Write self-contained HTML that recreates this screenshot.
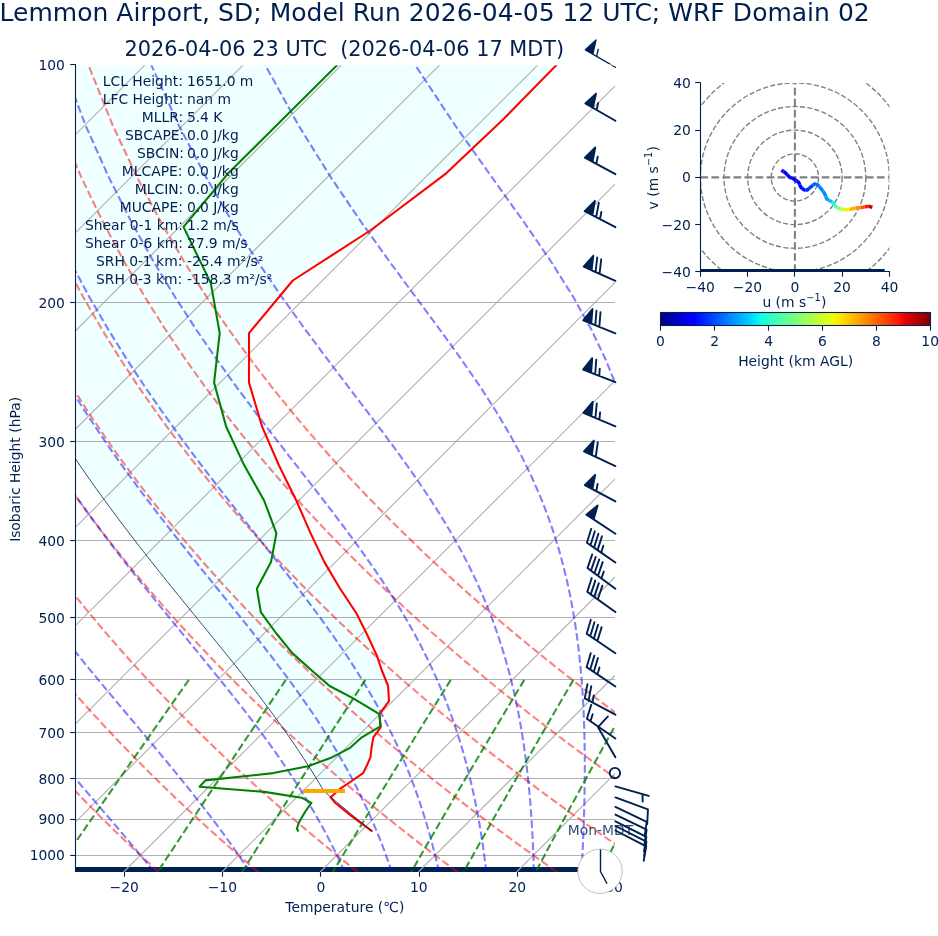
<!DOCTYPE html>
<html lang="en"><head><meta charset="utf-8"><title>Lemmon Airport, SD Skew-T</title>
<style>html,body{margin:0;padding:0;background:#fff}body{width:938px;height:936px;overflow:hidden}</style></head>
<body>
<svg width="938" height="936" viewBox="0 0 938 936" style="display:block;font-family:'DejaVu Sans','Liberation Sans',sans-serif">
<rect width="938" height="936" fill="#fff"/>
<defs><clipPath id="cax"><rect x="75" y="65" width="540" height="807"/></clipPath>
<linearGradient id="jet" x1="0" x2="1" y1="0" y2="0">
<stop offset="0.0000" stop-color="#000080"/>
<stop offset="0.0156" stop-color="#000092"/>
<stop offset="0.0312" stop-color="#0000a4"/>
<stop offset="0.0469" stop-color="#0000b6"/>
<stop offset="0.0625" stop-color="#0000c8"/>
<stop offset="0.0781" stop-color="#0000da"/>
<stop offset="0.0938" stop-color="#0000ed"/>
<stop offset="0.1094" stop-color="#0000ff"/>
<stop offset="0.1250" stop-color="#0000ff"/>
<stop offset="0.1406" stop-color="#0010ff"/>
<stop offset="0.1562" stop-color="#0020ff"/>
<stop offset="0.1719" stop-color="#0030ff"/>
<stop offset="0.1875" stop-color="#0040ff"/>
<stop offset="0.2031" stop-color="#0050ff"/>
<stop offset="0.2188" stop-color="#0060ff"/>
<stop offset="0.2344" stop-color="#0070ff"/>
<stop offset="0.2500" stop-color="#0080ff"/>
<stop offset="0.2656" stop-color="#0090ff"/>
<stop offset="0.2812" stop-color="#00a0ff"/>
<stop offset="0.2969" stop-color="#00b0ff"/>
<stop offset="0.3125" stop-color="#00c0ff"/>
<stop offset="0.3281" stop-color="#00d0ff"/>
<stop offset="0.3438" stop-color="#00e0fb"/>
<stop offset="0.3594" stop-color="#09f0ee"/>
<stop offset="0.3750" stop-color="#16ffe1"/>
<stop offset="0.3906" stop-color="#23ffd4"/>
<stop offset="0.4062" stop-color="#30ffc7"/>
<stop offset="0.4219" stop-color="#3cffba"/>
<stop offset="0.4375" stop-color="#49ffad"/>
<stop offset="0.4531" stop-color="#56ffa0"/>
<stop offset="0.4688" stop-color="#63ff94"/>
<stop offset="0.4844" stop-color="#70ff87"/>
<stop offset="0.5000" stop-color="#7dff7a"/>
<stop offset="0.5156" stop-color="#8aff6d"/>
<stop offset="0.5312" stop-color="#97ff60"/>
<stop offset="0.5469" stop-color="#a4ff53"/>
<stop offset="0.5625" stop-color="#b1ff46"/>
<stop offset="0.5781" stop-color="#beff39"/>
<stop offset="0.5938" stop-color="#caff2c"/>
<stop offset="0.6094" stop-color="#d7ff1f"/>
<stop offset="0.6250" stop-color="#e4ff13"/>
<stop offset="0.6406" stop-color="#f1fc06"/>
<stop offset="0.6562" stop-color="#feed00"/>
<stop offset="0.6719" stop-color="#ffde00"/>
<stop offset="0.6875" stop-color="#ffd000"/>
<stop offset="0.7031" stop-color="#ffc100"/>
<stop offset="0.7188" stop-color="#ffb200"/>
<stop offset="0.7344" stop-color="#ffa300"/>
<stop offset="0.7500" stop-color="#ff9400"/>
<stop offset="0.7656" stop-color="#ff8600"/>
<stop offset="0.7812" stop-color="#ff7700"/>
<stop offset="0.7969" stop-color="#ff6800"/>
<stop offset="0.8125" stop-color="#ff5900"/>
<stop offset="0.8281" stop-color="#ff4a00"/>
<stop offset="0.8438" stop-color="#ff3b00"/>
<stop offset="0.8594" stop-color="#ff2d00"/>
<stop offset="0.8750" stop-color="#ff1e00"/>
<stop offset="0.8906" stop-color="#fa0f00"/>
<stop offset="0.9062" stop-color="#e80000"/>
<stop offset="0.9219" stop-color="#d60000"/>
<stop offset="0.9375" stop-color="#c40000"/>
<stop offset="0.9531" stop-color="#b20000"/>
<stop offset="0.9688" stop-color="#9f0000"/>
<stop offset="0.9844" stop-color="#8d0000"/>
<stop offset="1.0000" stop-color="#800000"/>
</linearGradient></defs>
<g clip-path="url(#cax)">
<path d="M584.00 37.00 L556.90 64.60 L503.10 119.50 L446.20 173.30 L370.30 230.50 L292.80 280.50 L249.00 333.10 L249.00 382.60 L262.10 426.70 L279.00 465.50 L296.90 501.80 L310.30 532.60 L324.40 562.10 L340.00 588.50 L356.40 613.30 L366.70 633.80 L376.90 655.60 L381.70 670.00 L388.10 686.00 L389.00 701.20 L379.40 714.20 L380.80 727.10 L373.30 737.30 L371.50 748.00 L370.50 757.20 L366.90 765.50 L363.10 773.20 L351.00 781.50 L339.50 789.20 L330.60 797.40 L328.25 794.87 L323.72 791.00 L323.24 790.17 L321.72 787.56 L320.16 784.92 L318.58 782.26 L316.97 779.59 L315.33 776.89 L313.66 774.17 L311.96 771.43 L310.23 768.67 L308.47 765.88 L306.67 763.07 L304.85 760.24 L302.99 757.39 L301.10 754.51 L299.17 751.61 L297.21 748.68 L295.22 745.73 L293.19 742.75 L291.12 739.74 L289.02 736.71 L286.88 733.65 L284.71 730.57 L282.49 727.45 L280.24 724.31 L277.95 721.14 L275.62 717.94 L273.25 714.71 L270.84 711.45 L268.39 708.15 L265.89 704.83 L263.36 701.47 L260.78 698.08 L258.17 694.66 L255.51 691.20 L252.81 687.71 L250.06 684.18 L247.27 680.61 L244.44 677.00 L241.57 673.36 L238.65 669.68 L235.68 665.96 L232.68 662.20 L229.63 658.39 L226.53 654.55 L223.39 650.66 L220.21 646.72 L216.98 642.74 L213.71 638.72 L210.40 634.64 L207.04 630.52 L203.64 626.34 L200.19 622.12 L196.70 617.84 L193.17 613.51 L189.59 609.12 L185.98 604.68 L182.32 600.18 L178.61 595.61 L174.87 590.99 L171.08 586.30 L167.26 581.55 L163.39 576.73 L159.48 571.85 L155.54 566.89 L151.55 561.86 L147.52 556.75 L143.45 551.57 L139.35 546.31 L135.21 540.97 L131.03 535.54 L126.81 530.02 L122.56 524.42 L118.26 518.72 L113.94 512.93 L109.57 507.03 L105.17 501.04 L100.74 494.93 L96.27 488.72 L91.76 482.39 L87.22 475.94 L82.65 469.37 L78.04 462.67 L73.40 455.84 L68.73 448.87 L64.02 441.75 L59.28 434.49 L54.51 427.06 L49.70 419.48 L44.87 411.72 L40.00 403.78 L35.10 395.65 L30.17 387.33 L25.21 378.80 L20.22 370.05 L15.21 361.07 L10.16 351.85 L5.09 342.38 L-0.01 332.64 L-5.13 322.62 L-10.28 312.29 L-15.45 301.64 L-20.63 290.65 L-25.84 279.30 L-31.06 267.56 L-36.29 255.40 L-41.53 242.80 L-46.77 229.72 L-52.01 216.12 L-57.24 201.95 L-62.46 187.18 L-67.64 171.75 L-72.79 155.58 L-77.89 138.62 L-82.92 120.77 L-87.86 101.95 L-92.68 82.04 L-97.36 60.89 L-101.85 38.36 L-106.10 14.25 L-110.04 -11.69Z" fill="#f0ffff"/>
<rect x="74.8" y="867" width="525.7" height="5" fill="#002050"/>
</g>
<g fill-opacity="0.82"><text x="567.84 579.84 588.34 597.09 601.97 613.97 624.72" y="835.00" font-size="13.89px" fill="#002050" xml:space="preserve">Mon-MDT</text></g>
<g clip-path="url(#cax)">
<line x1="75.3" x2="615.5" y1="302.50" y2="302.50" stroke="#b0b0b0" stroke-width="1.1"/>
<line x1="75.3" x2="615.5" y1="441.50" y2="441.50" stroke="#b0b0b0" stroke-width="1.1"/>
<line x1="75.3" x2="615.5" y1="540.50" y2="540.50" stroke="#b0b0b0" stroke-width="1.1"/>
<line x1="75.3" x2="615.5" y1="617.50" y2="617.50" stroke="#b0b0b0" stroke-width="1.1"/>
<line x1="75.3" x2="615.5" y1="679.50" y2="679.50" stroke="#b0b0b0" stroke-width="1.1"/>
<line x1="75.3" x2="615.5" y1="732.50" y2="732.50" stroke="#b0b0b0" stroke-width="1.1"/>
<line x1="75.3" x2="615.5" y1="778.50" y2="778.50" stroke="#b0b0b0" stroke-width="1.1"/>
<line x1="75.3" x2="615.5" y1="819.50" y2="819.50" stroke="#b0b0b0" stroke-width="1.1"/>
<line x1="75.3" x2="615.5" y1="855.50" y2="855.50" stroke="#b0b0b0" stroke-width="1.1"/>
<line x1="-858.47" y1="872.0" x2="-51.37" y2="64.9" stroke="#b0b0b0" stroke-width="1.1"/>
<line x1="-760.25" y1="872.0" x2="46.85" y2="64.9" stroke="#b0b0b0" stroke-width="1.1"/>
<line x1="-662.04" y1="872.0" x2="145.06" y2="64.9" stroke="#b0b0b0" stroke-width="1.1"/>
<line x1="-563.82" y1="872.0" x2="243.28" y2="64.9" stroke="#b0b0b0" stroke-width="1.1"/>
<line x1="-465.60" y1="872.0" x2="341.50" y2="64.9" stroke="#b0b0b0" stroke-width="1.1"/>
<line x1="-367.38" y1="872.0" x2="439.72" y2="64.9" stroke="#b0b0b0" stroke-width="1.1"/>
<line x1="-269.16" y1="872.0" x2="537.94" y2="64.9" stroke="#b0b0b0" stroke-width="1.1"/>
<line x1="-170.95" y1="872.0" x2="636.15" y2="64.9" stroke="#b0b0b0" stroke-width="1.1"/>
<line x1="-72.73" y1="872.0" x2="734.37" y2="64.9" stroke="#b0b0b0" stroke-width="1.1"/>
<line x1="25.49" y1="872.0" x2="832.59" y2="64.9" stroke="#b0b0b0" stroke-width="1.1"/>
<line x1="123.71" y1="872.0" x2="930.81" y2="64.9" stroke="#b0b0b0" stroke-width="1.1"/>
<line x1="221.93" y1="872.0" x2="1029.03" y2="64.9" stroke="#b0b0b0" stroke-width="1.1"/>
<line x1="320.15" y1="872.0" x2="1127.25" y2="64.9" stroke="#b0b0b0" stroke-width="1.1"/>
<line x1="418.36" y1="872.0" x2="1225.46" y2="64.9" stroke="#b0b0b0" stroke-width="1.1"/>
<line x1="516.58" y1="872.0" x2="1323.68" y2="64.9" stroke="#b0b0b0" stroke-width="1.1"/>
<line x1="614.80" y1="872.0" x2="1421.90" y2="64.9" stroke="#b0b0b0" stroke-width="1.1"/>
<line x1="713.02" y1="872.0" x2="1520.12" y2="64.9" stroke="#b0b0b0" stroke-width="1.1"/>
<g fill="none" stroke="#ff0000" stroke-opacity="0.5" stroke-width="2.08" stroke-dasharray="7.70 3.33"><path d="M59.02 872.00 L52.55 865.60 L46.03 859.08 L39.47 852.44 L32.84 845.66 L26.16 838.75 L19.42 831.70 L12.63 824.49 L5.77 817.14 L-1.14 809.62 L-8.12 801.93 L-15.16 794.07 L-22.26 786.02 L-29.43 777.78 L-36.67 769.34 L-43.98 760.68 L-51.35 751.81 L-58.80 742.69 L-66.32 733.33 L-73.91 723.70 L-81.58 713.79 L-89.33 703.60 L-97.16 693.08 L-105.06 682.24 L-113.05 671.04 L-121.12 659.47 L-129.27 647.49 L-137.50 635.08 L-145.83 622.20 L-154.23 608.82 L-162.72 594.90 L-171.30 580.39 L-179.96 565.24 L-188.69 549.39 L-197.51 532.77 L-206.40 515.30 L-215.35 496.90 L-224.36 477.46 L-233.41 456.85 L-242.49 434.92 L-251.56 411.49 L-260.61 386.35 L-269.57 359.22 L-278.39 329.76 L-286.98 297.53 L-295.21 261.95 L-302.88 222.26 L-309.71 177.38 L-315.22 125.73 L-318.63 64.90"/><path d="M158.61 872.00 L151.62 865.60 L144.57 859.08 L137.45 852.44 L130.28 845.66 L123.04 838.75 L115.73 831.70 L108.36 824.49 L100.92 817.14 L93.42 809.62 L85.84 801.93 L78.18 794.07 L70.45 786.02 L62.65 777.78 L54.77 769.34 L46.81 760.68 L38.76 751.81 L30.63 742.69 L22.42 733.33 L14.12 723.70 L5.72 713.79 L-2.76 703.60 L-11.34 693.08 L-20.02 682.24 L-28.79 671.04 L-37.67 659.47 L-46.65 647.49 L-55.73 635.08 L-64.93 622.20 L-74.23 608.82 L-83.64 594.90 L-93.17 580.39 L-102.80 565.24 L-112.55 549.39 L-122.41 532.77 L-132.39 515.30 L-142.46 496.90 L-152.64 477.46 L-162.91 456.85 L-173.26 434.92 L-183.68 411.49 L-194.13 386.35 L-204.58 359.22 L-214.97 329.76 L-225.24 297.53 L-235.27 261.95 L-244.89 222.26 L-253.84 177.38 L-261.71 125.73 L-267.76 64.90"/><path d="M258.21 872.00 L250.69 865.60 L243.10 859.08 L235.44 852.44 L227.72 845.66 L219.92 838.75 L212.04 831.70 L204.10 824.49 L196.07 817.14 L187.97 809.62 L179.79 801.93 L171.52 794.07 L163.17 786.02 L154.74 777.78 L146.21 769.34 L137.59 760.68 L128.88 751.81 L120.07 742.69 L111.16 733.33 L102.15 723.70 L93.03 713.79 L83.81 703.60 L74.48 693.08 L65.03 682.24 L55.46 671.04 L45.78 659.47 L35.97 647.49 L26.04 635.08 L15.97 622.20 L5.77 608.82 L-4.56 594.90 L-15.03 580.39 L-25.65 565.24 L-36.41 549.39 L-47.32 532.77 L-58.37 515.30 L-69.58 496.90 L-80.93 477.46 L-92.42 456.85 L-104.04 434.92 L-115.79 411.49 L-127.65 386.35 L-139.58 359.22 L-151.55 329.76 L-163.50 297.53 L-175.33 261.95 L-186.90 222.26 L-197.98 177.38 L-208.19 125.73 L-216.89 64.90"/><path d="M357.81 872.00 L349.76 865.60 L341.63 859.08 L333.43 852.44 L325.15 845.66 L316.79 838.75 L308.36 831.70 L299.83 824.49 L291.23 817.14 L282.53 809.62 L273.74 801.93 L264.87 794.07 L255.89 786.02 L246.82 777.78 L237.65 769.34 L228.37 760.68 L218.99 751.81 L209.50 742.69 L199.90 733.33 L190.18 723.70 L180.34 713.79 L170.38 703.60 L160.29 693.08 L150.07 682.24 L139.72 671.04 L129.23 659.47 L118.59 647.49 L107.81 635.08 L96.87 622.20 L85.78 608.82 L74.52 594.90 L63.10 580.39 L51.50 565.24 L39.73 549.39 L27.78 532.77 L15.64 515.30 L3.31 496.90 L-9.21 477.46 L-21.92 456.85 L-34.82 434.92 L-47.91 411.49 L-61.17 386.35 L-74.59 359.22 L-88.13 329.76 L-101.76 297.53 L-115.39 261.95 L-128.91 222.26 L-142.11 177.38 L-154.68 125.73 L-166.02 64.90"/><path d="M457.40 872.00 L448.82 865.60 L440.16 859.08 L431.42 852.44 L422.59 845.66 L413.67 838.75 L404.67 831.70 L395.57 824.49 L386.38 817.14 L377.09 809.62 L367.70 801.93 L358.21 794.07 L348.61 786.02 L338.90 777.78 L329.09 769.34 L319.16 760.68 L309.11 751.81 L298.93 742.69 L288.64 733.33 L278.21 723.70 L267.65 713.79 L256.95 703.60 L246.11 693.08 L235.12 682.24 L223.98 671.04 L212.68 659.47 L201.21 647.49 L189.58 635.08 L177.77 622.20 L165.78 608.82 L153.60 594.90 L141.23 580.39 L128.65 565.24 L115.87 549.39 L102.87 532.77 L89.65 515.30 L76.20 496.90 L62.51 477.46 L48.58 456.85 L34.40 434.92 L19.98 411.49 L5.31 386.35 L-9.59 359.22 L-24.71 329.76 L-40.02 297.53 L-55.45 261.95 L-70.92 222.26 L-86.25 177.38 L-101.17 125.73 L-115.15 64.90"/><path d="M557.00 872.00 L547.89 865.60 L538.69 859.08 L529.41 852.44 L520.03 845.66 L510.55 838.75 L500.98 831.70 L491.30 824.49 L481.53 817.14 L471.64 809.62 L461.65 801.93 L451.55 794.07 L441.33 786.02 L430.99 777.78 L420.53 769.34 L409.94 760.68 L399.22 751.81 L388.37 742.69 L377.38 733.33 L366.24 723.70 L354.96 713.79 L343.52 703.60 L331.92 693.08 L320.16 682.24 L308.23 671.04 L296.12 659.47 L283.83 647.49 L271.35 635.08 L258.67 622.20 L245.78 608.82 L232.68 594.90 L219.36 580.39 L205.81 565.24 L192.01 549.39 L177.97 532.77 L163.66 515.30 L149.08 496.90 L134.22 477.46 L119.07 456.85 L103.62 434.92 L87.86 411.49 L71.79 386.35 L55.40 359.22 L38.71 329.76 L21.72 297.53 L4.49 261.95 L-12.92 222.26 L-30.38 177.38 L-47.65 125.73 L-64.28 64.90"/><path d="M656.60 872.00 L646.96 865.60 L637.23 859.08 L627.40 852.44 L617.46 845.66 L607.43 838.75 L597.29 831.70 L587.04 824.49 L576.68 817.14 L566.20 809.62 L555.61 801.93 L544.89 794.07 L534.05 786.02 L523.07 777.78 L511.97 769.34 L500.72 760.68 L489.34 751.81 L477.80 742.69 L466.12 733.33 L454.27 723.70 L442.27 713.79 L430.09 703.60 L417.74 693.08 L405.21 682.24 L392.49 671.04 L379.57 659.47 L366.45 647.49 L353.12 635.08 L339.57 622.20 L325.79 608.82 L311.77 594.90 L297.49 580.39 L282.96 565.24 L268.15 549.39 L253.06 532.77 L237.67 515.30 L221.97 496.90 L205.94 477.46 L189.57 456.85 L172.84 434.92 L155.74 411.49 L138.27 386.35 L120.39 359.22 L102.12 329.76 L83.46 297.53 L64.43 261.95 L45.07 222.26 L25.48 177.38 L5.86 125.73 L-13.40 64.90"/><path d="M756.19 872.00 L746.03 865.60 L735.76 859.08 L725.38 852.44 L714.90 845.66 L704.31 838.75 L693.60 831.70 L682.78 824.49 L671.83 817.14 L660.76 809.62 L649.56 801.93 L638.23 794.07 L626.76 786.02 L615.16 777.78 L603.41 769.34 L591.51 760.68 L579.45 751.81 L567.24 742.69 L554.85 733.33 L542.30 723.70 L529.57 713.79 L516.66 703.60 L503.56 693.08 L490.25 682.24 L476.74 671.04 L463.02 659.47 L449.07 647.49 L434.89 635.08 L420.47 622.20 L405.79 608.82 L390.85 594.90 L375.63 580.39 L360.11 565.24 L344.30 549.39 L328.16 532.77 L311.68 515.30 L294.85 496.90 L277.66 477.46 L260.06 456.85 L242.06 434.92 L223.63 411.49 L204.74 386.35 L185.39 359.22 L165.54 329.76 L145.20 297.53 L124.37 261.95 L103.06 222.26 L81.35 177.38 L59.38 125.73 L37.47 64.90"/><path d="M855.79 872.00 L845.10 865.60 L834.29 859.08 L823.37 852.44 L812.34 845.66 L801.19 838.75 L789.91 831.70 L778.51 824.49 L766.98 817.14 L755.32 809.62 L743.51 801.93 L731.57 794.07 L719.48 786.02 L707.24 777.78 L694.85 769.34 L682.29 760.68 L669.56 751.81 L656.67 742.69 L643.59 733.33 L630.33 723.70 L616.88 713.79 L603.23 703.60 L589.37 693.08 L575.30 682.24 L561.00 671.04 L546.47 659.47 L531.69 647.49 L516.66 635.08 L501.37 622.20 L485.79 608.82 L469.93 594.90 L453.76 580.39 L437.27 565.24 L420.44 549.39 L403.25 532.77 L385.69 515.30 L367.74 496.90 L349.37 477.46 L330.56 456.85 L311.28 434.92 L291.51 411.49 L271.22 386.35 L250.38 359.22 L228.96 329.76 L206.94 297.53 L184.31 261.95 L161.05 222.26 L137.21 177.38 L112.89 125.73 L88.34 64.90"/></g>
<g fill="none" stroke="#0000ff" stroke-opacity="0.5" stroke-width="2.08" stroke-dasharray="7.70 3.33"><path d="M56.88 872.00 L51.29 865.60 L45.59 859.08 L39.78 852.44 L33.86 845.66 L27.82 838.75 L21.68 831.70 L15.43 824.49 L9.07 817.14 L2.61 809.62 L-3.96 801.93 L-10.64 794.07 L-17.42 786.02 L-24.31 777.78 L-31.30 769.34 L-38.39 760.68 L-45.58 751.81 L-52.87 742.69 L-60.26 733.33 L-67.75 723.70 L-75.34 713.79 L-83.03 703.60 L-90.81 693.08 L-98.69 682.24 L-106.67 671.04 L-114.75 659.47 L-122.91 647.49 L-131.18 635.08 L-139.54 622.20 L-147.99 608.82 L-156.53 594.90 L-165.17 580.39 L-173.89 565.24 L-182.70 549.39 L-191.59 532.77 L-200.56 515.30 L-209.60 496.90 L-218.70 477.46 L-227.85 456.85 L-237.02 434.92 L-246.20 411.49 L-255.36 386.35 L-264.44 359.22 L-273.38 329.76 L-282.11 297.53 L-290.48 261.95 L-298.30 222.26 L-305.30 177.38 L-311.00 125.73 L-314.62 64.90"/><path d="M154.10 872.00 L148.93 865.60 L143.61 859.08 L138.13 852.44 L132.50 845.66 L126.71 838.75 L120.77 831.70 L114.67 824.49 L108.40 817.14 L101.98 809.62 L95.40 801.93 L88.65 794.07 L81.75 786.02 L74.69 777.78 L67.47 769.34 L60.10 760.68 L52.57 751.81 L44.88 742.69 L37.05 733.33 L29.06 723.70 L20.93 713.79 L12.65 703.60 L4.23 693.08 L-4.34 682.24 L-13.05 671.04 L-21.90 659.47 L-30.88 647.49 L-40.01 635.08 L-49.26 622.20 L-58.66 608.82 L-68.18 594.90 L-77.84 580.39 L-87.63 565.24 L-97.55 549.39 L-107.59 532.77 L-117.76 515.30 L-128.05 496.90 L-138.45 477.46 L-148.96 456.85 L-159.56 434.92 L-170.24 411.49 L-180.96 386.35 L-191.70 359.22 L-202.41 329.76 L-213.01 297.53 L-223.40 261.95 L-233.41 222.26 L-242.78 177.38 L-251.11 125.73 L-257.69 64.90"/><path d="M249.94 872.00 L245.70 865.60 L241.30 859.08 L236.72 852.44 L231.96 845.66 L227.02 838.75 L221.87 831.70 L216.53 824.49 L210.97 817.14 L205.21 809.62 L199.23 801.93 L193.02 794.07 L186.59 786.02 L179.93 777.78 L173.03 769.34 L165.90 760.68 L158.53 751.81 L150.93 742.69 L143.08 733.33 L135.00 723.70 L126.68 713.79 L118.13 703.60 L109.34 693.08 L100.32 682.24 L91.08 671.04 L81.62 659.47 L71.94 647.49 L62.04 635.08 L51.94 622.20 L41.63 608.82 L31.11 594.90 L20.40 580.39 L9.48 565.24 L-1.62 549.39 L-12.92 532.77 L-24.41 515.30 L-36.08 496.90 L-47.93 477.46 L-59.96 456.85 L-72.16 434.92 L-84.51 411.49 L-97.01 386.35 L-109.62 359.22 L-122.32 329.76 L-135.04 297.53 L-147.70 261.95 L-160.16 222.26 L-172.22 177.38 L-183.52 125.73 L-193.44 64.90"/><path d="M344.65 872.00 L341.76 865.60 L338.72 859.08 L335.53 852.44 L332.18 845.66 L328.65 838.75 L324.94 831.70 L321.03 824.49 L316.92 817.14 L312.59 809.62 L308.04 801.93 L303.24 794.07 L298.18 786.02 L292.86 777.78 L287.25 769.34 L281.35 760.68 L275.14 751.81 L268.61 742.69 L261.75 733.33 L254.54 723.70 L246.98 713.79 L239.06 703.60 L230.77 693.08 L222.10 682.24 L213.05 671.04 L203.63 659.47 L193.83 647.49 L183.65 635.08 L173.11 622.20 L162.19 608.82 L150.92 594.90 L139.31 580.39 L127.35 565.24 L115.06 549.39 L102.45 532.77 L89.52 515.30 L76.30 496.90 L62.77 477.46 L48.95 456.85 L34.85 434.92 L20.47 411.49 L5.83 386.35 L-9.07 359.22 L-24.19 329.76 L-39.50 297.53 L-54.94 261.95 L-70.42 222.26 L-85.77 177.38 L-100.71 125.73 L-114.71 64.90"/><path d="M391.82 872.00 L389.66 865.60 L387.38 859.08 L384.97 852.44 L382.43 845.66 L379.74 838.75 L376.89 831.70 L373.88 824.49 L370.69 817.14 L367.31 809.62 L363.72 801.93 L359.92 794.07 L355.87 786.02 L351.58 777.78 L347.02 769.34 L342.18 760.68 L337.03 751.81 L331.55 742.69 L325.73 733.33 L319.55 723.70 L312.98 713.79 L306.00 703.60 L298.60 693.08 L290.76 682.24 L282.46 671.04 L273.68 659.47 L264.43 647.49 L254.68 635.08 L244.43 622.20 L233.69 608.82 L222.45 594.90 L210.72 580.39 L198.51 565.24 L185.83 549.39 L172.69 532.77 L159.12 515.30 L145.12 496.90 L130.71 477.46 L115.90 456.85 L100.71 434.92 L85.14 411.49 L69.22 386.35 L52.95 359.22 L36.34 329.76 L19.44 297.53 L2.28 261.95 L-15.06 222.26 L-32.44 177.38 L-49.62 125.73 L-66.14 64.90"/><path d="M439.02 872.00 L437.57 865.60 L436.04 859.08 L434.41 852.44 L432.68 845.66 L430.84 838.75 L428.88 831.70 L426.79 824.49 L424.55 817.14 L422.17 809.62 L419.63 801.93 L416.90 794.07 L413.99 786.02 L410.87 777.78 L407.53 769.34 L403.94 760.68 L400.08 751.81 L395.94 742.69 L391.49 733.33 L386.70 723.70 L381.55 713.79 L376.00 703.60 L370.03 693.08 L363.60 682.24 L356.68 671.04 L349.23 659.47 L341.23 647.49 L332.65 635.08 L323.44 622.20 L313.60 608.82 L303.10 594.90 L291.92 580.39 L280.06 565.24 L267.52 549.39 L254.31 532.77 L240.44 515.30 L225.93 496.90 L210.79 477.46 L195.07 456.85 L178.78 434.92 L161.95 411.49 L144.60 386.35 L126.75 359.22 L108.43 329.76 L89.66 297.53 L70.47 261.95 L50.93 222.26 L31.14 177.38 L11.28 125.73 L-8.25 64.90"/><path d="M486.33 872.00 L485.56 865.60 L484.73 859.08 L483.83 852.44 L482.87 845.66 L481.83 838.75 L480.71 831.70 L479.50 824.49 L478.19 817.14 L476.78 809.62 L475.26 801.93 L473.61 794.07 L471.82 786.02 L469.88 777.78 L467.78 769.34 L465.51 760.68 L463.03 751.81 L460.34 742.69 L457.41 733.33 L454.21 723.70 L450.72 713.79 L446.92 703.60 L442.76 693.08 L438.20 682.24 L433.21 671.04 L427.75 659.47 L421.76 647.49 L415.19 635.08 L407.98 622.20 L400.08 608.82 L391.43 594.90 L381.97 580.39 L371.64 565.24 L360.41 549.39 L348.23 532.77 L335.07 515.30 L320.93 496.90 L305.80 477.46 L289.72 456.85 L272.71 434.92 L254.82 411.49 L236.09 386.35 L216.58 359.22 L196.33 329.76 L175.38 297.53 L153.78 261.95 L131.57 222.26 L108.84 177.38 L85.72 125.73 L62.51 64.90"/><path d="M533.84 872.00 L533.67 865.60 L533.46 859.08 L533.22 852.44 L532.95 845.66 L532.63 838.75 L532.26 831.70 L531.85 824.49 L531.38 817.14 L530.84 809.62 L530.24 801.93 L529.57 794.07 L528.81 786.02 L527.97 777.78 L527.02 769.34 L525.96 760.68 L524.78 751.81 L523.47 742.69 L522.00 733.33 L520.36 723.70 L518.53 713.79 L516.48 703.60 L514.20 693.08 L511.64 682.24 L508.78 671.04 L505.57 659.47 L501.98 647.49 L497.93 635.08 L493.39 622.20 L488.27 608.82 L482.50 594.90 L476.00 580.39 L468.66 565.24 L460.38 549.39 L451.05 532.77 L440.55 515.30 L428.77 496.90 L415.60 477.46 L400.97 456.85 L384.82 434.92 L367.15 411.49 L347.98 386.35 L327.37 359.22 L305.42 329.76 L282.23 297.53 L257.89 261.95 L232.51 222.26 L206.18 177.38 L179.00 125.73 L151.20 64.90"/><path d="M581.56 872.00 L581.91 865.60 L582.25 859.08 L582.57 852.44 L582.89 845.66 L583.19 838.75 L583.47 831.70 L583.74 824.49 L583.98 817.14 L584.20 809.62 L584.39 801.93 L584.55 794.07 L584.67 786.02 L584.76 777.78 L584.80 769.34 L584.79 760.68 L584.72 751.81 L584.58 742.69 L584.38 733.33 L584.08 723.70 L583.70 713.79 L583.20 703.60 L582.57 693.08 L581.80 682.24 L580.87 671.04 L579.75 659.47 L578.40 647.49 L576.80 635.08 L574.90 622.20 L572.66 608.82 L570.01 594.90 L566.88 580.39 L563.19 565.24 L558.84 549.39 L553.70 532.77 L547.62 515.30 L540.44 496.90 L531.94 477.46 L521.90 456.85 L510.06 434.92 L496.15 411.49 L479.94 386.35 L461.24 359.22 L439.94 329.76 L416.08 297.53 L389.80 261.95 L361.32 222.26 L330.89 177.38 L298.76 125.73 L265.15 64.90"/><path d="M629.52 872.00 L630.30 865.60 L631.09 859.08 L631.88 852.44 L632.69 845.66 L633.50 838.75 L634.32 831.70 L635.14 824.49 L635.97 817.14 L636.80 809.62 L637.64 801.93 L638.48 794.07 L639.32 786.02 L640.16 777.78 L640.99 769.34 L641.83 760.68 L642.65 751.81 L643.47 742.69 L644.27 733.33 L645.05 723.70 L645.82 713.79 L646.55 703.60 L647.25 693.08 L647.91 682.24 L648.51 671.04 L649.05 659.47 L649.51 647.49 L649.88 635.08 L650.14 622.20 L650.26 608.82 L650.20 594.90 L649.95 580.39 L649.44 565.24 L648.63 549.39 L647.44 532.77 L645.78 515.30 L643.53 496.90 L640.55 477.46 L636.64 456.85 L631.55 434.92 L624.96 411.49 L616.45 386.35 L605.49 359.22 L591.45 329.76 L573.60 297.53 L551.29 261.95 L524.09 222.26 L491.98 177.38 L455.41 125.73 L415.10 64.90"/></g>
<g fill="none" stroke="#008000" stroke-opacity="0.8" stroke-width="2.08" stroke-dasharray="7.70 3.33"><path d="M188.82 679.91 L185.14 685.13 L181.53 690.26 L177.96 695.32 L174.45 700.31 L171.00 705.23 L167.59 710.07 L164.24 714.85 L160.93 719.56 L157.67 724.21 L154.45 728.80 L151.28 733.33 L148.15 737.79 L145.06 742.20 L142.02 746.56 L139.01 750.86 L136.04 755.10 L133.11 759.30 L130.22 763.44 L127.36 767.54 L124.54 771.58 L121.75 775.58 L119.00 779.53 L116.28 783.44 L113.59 787.31 L110.93 791.13 L108.30 794.91 L105.70 798.64 L103.13 802.34 L100.59 806.00 L98.08 809.62 L95.60 813.20 L93.14 816.75 L90.71 820.25 L88.30 823.73 L85.92 827.17 L83.56 830.57 L81.23 833.94 L78.92 837.28 L76.64 840.58 L74.38 843.86 L72.14 847.10 L69.92 850.31 L67.72 853.50 L65.55 856.65 L63.39 859.78 L61.26 862.87 L59.14 865.94 L57.05 868.98 L54.97 872.00"/><path d="M285.81 679.91 L282.28 685.13 L278.81 690.26 L275.39 695.32 L272.03 700.31 L268.71 705.23 L265.44 710.07 L262.22 714.85 L259.05 719.56 L255.92 724.21 L252.84 728.80 L249.80 733.33 L246.80 737.79 L243.84 742.20 L240.92 746.56 L238.04 750.86 L235.20 755.10 L232.39 759.30 L229.62 763.44 L226.88 767.54 L224.18 771.58 L221.51 775.58 L218.87 779.53 L216.27 783.44 L213.69 787.31 L211.15 791.13 L208.63 794.91 L206.15 798.64 L203.69 802.34 L201.26 806.00 L198.85 809.62 L196.48 813.20 L194.12 816.75 L191.80 820.25 L189.50 823.73 L187.22 827.17 L184.97 830.57 L182.74 833.94 L180.53 837.28 L178.34 840.58 L176.18 843.86 L174.04 847.10 L171.92 850.31 L169.82 853.50 L167.74 856.65 L165.68 859.78 L163.64 862.87 L161.62 865.94 L159.62 868.98 L157.64 872.00"/><path d="M365.34 679.91 L361.94 685.13 L358.60 690.26 L355.30 695.32 L352.06 700.31 L348.86 705.23 L345.71 710.07 L342.61 714.85 L339.55 719.56 L336.54 724.21 L333.57 728.80 L330.64 733.33 L327.75 737.79 L324.90 742.20 L322.09 746.56 L319.32 750.86 L316.58 755.10 L313.88 759.30 L311.21 763.44 L308.58 767.54 L305.98 771.58 L303.41 775.58 L300.87 779.53 L298.36 783.44 L295.89 787.31 L293.44 791.13 L291.02 794.91 L288.63 798.64 L286.27 802.34 L283.93 806.00 L281.62 809.62 L279.33 813.20 L277.07 816.75 L274.84 820.25 L272.63 823.73 L270.44 827.17 L268.27 830.57 L266.13 833.94 L264.01 837.28 L261.91 840.58 L259.83 843.86 L257.78 847.10 L255.74 850.31 L253.72 853.50 L251.73 856.65 L249.75 859.78 L247.79 862.87 L245.85 865.94 L243.93 868.98 L242.03 872.00"/><path d="M450.74 679.91 L447.48 685.13 L444.27 690.26 L441.11 695.32 L438.00 700.31 L434.94 705.23 L431.92 710.07 L428.95 714.85 L426.03 719.56 L423.14 724.21 L420.30 728.80 L417.49 733.33 L414.73 737.79 L412.00 742.20 L409.31 746.56 L406.66 750.86 L404.04 755.10 L401.45 759.30 L398.90 763.44 L396.38 767.54 L393.90 771.58 L391.44 775.58 L389.01 779.53 L386.62 783.44 L384.25 787.31 L381.91 791.13 L379.60 794.91 L377.31 798.64 L375.06 802.34 L372.82 806.00 L370.62 809.62 L368.43 813.20 L366.28 816.75 L364.14 820.25 L362.03 823.73 L359.94 827.17 L357.87 830.57 L355.83 833.94 L353.81 837.28 L351.80 840.58 L349.82 843.86 L347.86 847.10 L345.92 850.31 L343.99 853.50 L342.09 856.65 L340.20 859.78 L338.34 862.87 L336.49 865.94 L334.66 868.98 L332.84 872.00"/><path d="M524.27 679.91 L521.14 685.13 L518.05 690.26 L515.02 695.32 L512.03 700.31 L509.09 705.23 L506.19 710.07 L503.33 714.85 L500.52 719.56 L497.75 724.21 L495.02 728.80 L492.33 733.33 L489.67 737.79 L487.05 742.20 L484.47 746.56 L481.92 750.86 L479.41 755.10 L476.93 759.30 L474.48 763.44 L472.07 767.54 L469.68 771.58 L467.32 775.58 L465.00 779.53 L462.70 783.44 L460.43 787.31 L458.19 791.13 L455.97 794.91 L453.78 798.64 L451.62 802.34 L449.48 806.00 L447.36 809.62 L445.27 813.20 L443.21 816.75 L441.16 820.25 L439.14 823.73 L437.14 827.17 L435.16 830.57 L433.20 833.94 L431.27 837.28 L429.35 840.58 L427.45 843.86 L425.57 847.10 L423.72 850.31 L421.88 853.50 L420.05 856.65 L418.25 859.78 L416.47 862.87 L414.70 865.94 L412.95 868.98 L411.21 872.00"/><path d="M573.37 679.91 L570.32 685.13 L567.32 690.26 L564.37 695.32 L561.46 700.31 L558.60 705.23 L555.78 710.07 L553.01 714.85 L550.27 719.56 L547.58 724.21 L544.93 728.80 L542.31 733.33 L539.73 737.79 L537.19 742.20 L534.68 746.56 L532.21 750.86 L529.76 755.10 L527.36 759.30 L524.98 763.44 L522.63 767.54 L520.32 771.58 L518.03 775.58 L515.77 779.53 L513.54 783.44 L511.34 787.31 L509.16 791.13 L507.01 794.91 L504.89 798.64 L502.79 802.34 L500.71 806.00 L498.66 809.62 L496.64 813.20 L494.63 816.75 L492.65 820.25 L490.69 823.73 L488.75 827.17 L486.83 830.57 L484.93 833.94 L483.05 837.28 L481.20 840.58 L479.36 843.86 L477.54 847.10 L475.74 850.31 L473.95 853.50 L472.19 856.65 L470.44 859.78 L468.71 862.87 L467.00 865.94 L465.30 868.98 L463.62 872.00"/><path d="M640.73 679.91 L637.80 685.13 L634.92 690.26 L632.09 695.32 L629.30 700.31 L626.55 705.23 L623.85 710.07 L621.19 714.85 L618.56 719.56 L615.98 724.21 L613.43 728.80 L610.92 733.33 L608.45 737.79 L606.01 742.20 L603.61 746.56 L601.24 750.86 L598.90 755.10 L596.59 759.30 L594.31 763.44 L592.07 767.54 L589.85 771.58 L587.66 775.58 L585.50 779.53 L583.36 783.44 L581.25 787.31 L579.17 791.13 L577.11 794.91 L575.08 798.64 L573.07 802.34 L571.09 806.00 L569.13 809.62 L567.19 813.20 L565.27 816.75 L563.37 820.25 L561.50 823.73 L559.64 827.17 L557.81 830.57 L556.00 833.94 L554.20 837.28 L552.43 840.58 L550.67 843.86 L548.93 847.10 L547.21 850.31 L545.51 853.50 L543.83 856.65 L542.16 859.78 L540.51 862.87 L538.87 865.94 L537.25 868.98 L535.65 872.00"/><path d="M701.21 679.91 L698.39 685.13 L695.62 690.26 L692.90 695.32 L690.21 700.31 L687.57 705.23 L684.97 710.07 L682.41 714.85 L679.89 719.56 L677.41 724.21 L674.97 728.80 L672.56 733.33 L670.18 737.79 L667.84 742.20 L665.53 746.56 L663.25 750.86 L661.01 755.10 L658.79 759.30 L656.61 763.44 L654.45 767.54 L652.33 771.58 L650.23 775.58 L648.15 779.53 L646.10 783.44 L644.08 787.31 L642.09 791.13 L640.11 794.91 L638.17 798.64 L636.24 802.34 L634.34 806.00 L632.46 809.62 L630.60 813.20 L628.77 816.75 L626.95 820.25 L625.16 823.73 L623.38 827.17 L621.63 830.57 L619.89 833.94 L618.17 837.28 L616.48 840.58 L614.80 843.86 L613.13 847.10 L611.49 850.31 L609.86 853.50 L608.25 856.65 L606.65 859.78 L605.07 862.87 L603.51 865.94 L601.96 868.98 L600.43 872.00"/><path d="M745.35 679.91 L742.61 685.13 L739.92 690.26 L737.28 695.32 L734.67 700.31 L732.11 705.23 L729.59 710.07 L727.11 714.85 L724.67 719.56 L722.26 724.21 L719.89 728.80 L717.55 733.33 L715.25 737.79 L712.98 742.20 L710.74 746.56 L708.54 750.86 L706.36 755.10 L704.22 759.30 L702.10 763.44 L700.01 767.54 L697.95 771.58 L695.92 775.58 L693.91 779.53 L691.93 783.44 L689.97 787.31 L688.04 791.13 L686.13 794.91 L684.25 798.64 L682.38 802.34 L680.54 806.00 L678.73 809.62 L676.93 813.20 L675.15 816.75 L673.40 820.25 L671.66 823.73 L669.95 827.17 L668.25 830.57 L666.57 833.94 L664.91 837.28 L663.27 840.58 L661.65 843.86 L660.04 847.10 L658.45 850.31 L656.88 853.50 L655.32 856.65 L653.78 859.78 L652.26 862.87 L650.75 865.94 L649.26 868.98 L647.78 872.00"/></g>
<path d="M584.00 37.00 L556.90 64.60 L503.10 119.50 L446.20 173.30 L370.30 230.50 L292.80 280.50 L249.00 333.10 L249.00 382.60 L262.10 426.70 L279.00 465.50 L296.90 501.80 L310.30 532.60 L324.40 562.10 L340.00 588.50 L356.40 613.30 L366.70 633.80 L376.90 655.60 L381.70 670.00 L388.10 686.00 L389.00 701.20 L379.40 714.20 L380.80 727.10 L373.30 737.30 L371.50 748.00 L370.50 757.20 L366.90 765.50 L363.10 773.20 L351.00 781.50 L339.50 789.20 L330.60 797.40 L335.10 802.80 L340.20 806.90 L349.70 814.60 L358.60 821.30 L365.00 826.00 L372.30 831.30" fill="none" stroke="#ff0000" stroke-width="2.08" stroke-linejoin="round"/>
<path d="M365.30 37.00 L337.70 64.60 L228.00 173.60 L183.50 226.90 L210.80 283.10 L219.70 333.10 L214.10 382.60 L226.20 426.70 L244.10 465.10 L264.10 500.50 L276.40 533.30 L271.00 562.10 L256.90 588.50 L260.80 612.10 L276.00 633.00 L292.30 653.10 L311.20 670.00 L329.70 686.00 L352.80 698.20 L379.40 714.20 L380.40 726.40 L361.80 737.30 L349.60 748.20 L332.30 757.20 L309.20 765.90 L273.30 773.10 L205.40 780.40 L199.60 786.80 L264.40 791.90 L301.50 797.70 L311.40 802.80 L305.00 812.00 L299.20 822.00 L296.90 828.50 L298.30 831.70" fill="none" stroke="#008000" stroke-width="2.08" stroke-linejoin="round"/>
<path d="M372.30 831.30 L367.99 827.83 L363.67 824.32 L359.32 820.77 L354.95 817.19 L350.56 813.57 L346.14 809.91 L341.70 806.21 L337.24 802.47 L332.76 798.69 L328.25 794.87 L323.72 791.00 L323.24 790.17 L321.72 787.56 L320.16 784.92 L318.58 782.26 L316.97 779.59 L315.33 776.89 L313.66 774.17 L311.96 771.43 L310.23 768.67 L308.47 765.88 L306.67 763.07 L304.85 760.24 L302.99 757.39 L301.10 754.51 L299.17 751.61 L297.21 748.68 L295.22 745.73 L293.19 742.75 L291.12 739.74 L289.02 736.71 L286.88 733.65 L284.71 730.57 L282.49 727.45 L280.24 724.31 L277.95 721.14 L275.62 717.94 L273.25 714.71 L270.84 711.45 L268.39 708.15 L265.89 704.83 L263.36 701.47 L260.78 698.08 L258.17 694.66 L255.51 691.20 L252.81 687.71 L250.06 684.18 L247.27 680.61 L244.44 677.00 L241.57 673.36 L238.65 669.68 L235.68 665.96 L232.68 662.20 L229.63 658.39 L226.53 654.55 L223.39 650.66 L220.21 646.72 L216.98 642.74 L213.71 638.72 L210.40 634.64 L207.04 630.52 L203.64 626.34 L200.19 622.12 L196.70 617.84 L193.17 613.51 L189.59 609.12 L185.98 604.68 L182.32 600.18 L178.61 595.61 L174.87 590.99 L171.08 586.30 L167.26 581.55 L163.39 576.73 L159.48 571.85 L155.54 566.89 L151.55 561.86 L147.52 556.75 L143.45 551.57 L139.35 546.31 L135.21 540.97 L131.03 535.54 L126.81 530.02 L122.56 524.42 L118.26 518.72 L113.94 512.93 L109.57 507.03 L105.17 501.04 L100.74 494.93 L96.27 488.72 L91.76 482.39 L87.22 475.94 L82.65 469.37 L78.04 462.67 L73.40 455.84 L68.73 448.87 L64.02 441.75 L59.28 434.49 L54.51 427.06 L49.70 419.48 L44.87 411.72 L40.00 403.78 L35.10 395.65 L30.17 387.33 L25.21 378.80 L20.22 370.05 L15.21 361.07 L10.16 351.85 L5.09 342.38 L-0.01 332.64 L-5.13 322.62 L-10.28 312.29 L-15.45 301.64 L-20.63 290.65 L-25.84 279.30 L-31.06 267.56 L-36.29 255.40 L-41.53 242.80 L-46.77 229.72 L-52.01 216.12 L-57.24 201.95 L-62.46 187.18 L-67.64 171.75 L-72.79 155.58 L-77.89 138.62 L-82.92 120.77 L-87.86 101.95 L-92.68 82.04 L-97.36 60.89 L-101.85 38.36 L-106.10 14.25 L-110.04 -11.69" fill="none" stroke="#002050" stroke-width="0.8"/>
</g>
<line x1="303.1" x2="345" y1="791" y2="791" stroke="#ffa500" stroke-width="4.2"/>
<line x1="75.5" x2="75.5" y1="64" y2="872" stroke="#002050" stroke-width="1.1"/>
<g stroke="#002050" stroke-width="1.1"><line x1="70.2" x2="75.5" y1="64.50" y2="64.50"/><line x1="70.2" x2="75.5" y1="302.50" y2="302.50"/><line x1="70.2" x2="75.5" y1="441.50" y2="441.50"/><line x1="70.2" x2="75.5" y1="540.50" y2="540.50"/><line x1="70.2" x2="75.5" y1="617.50" y2="617.50"/><line x1="70.2" x2="75.5" y1="679.50" y2="679.50"/><line x1="70.2" x2="75.5" y1="732.50" y2="732.50"/><line x1="70.2" x2="75.5" y1="778.50" y2="778.50"/><line x1="70.2" x2="75.5" y1="819.50" y2="819.50"/><line x1="70.2" x2="75.5" y1="855.50" y2="855.50"/><line x1="124.50" x2="124.50" y1="872" y2="876.7"/><line x1="222.50" x2="222.50" y1="872" y2="876.7"/><line x1="320.50" x2="320.50" y1="872" y2="876.7"/><line x1="419.50" x2="419.50" y1="872" y2="876.7"/><line x1="517.50" x2="517.50" y1="872" y2="876.7"/><line x1="615.50" x2="615.50" y1="872" y2="876.7"/></g>
<g fill="#002050"><text x="38.47 47.34 56.09" y="70.00" font-size="13.89px" xml:space="preserve">100</text><text x="38.59 47.34 56.09" y="308.00" font-size="13.89px" xml:space="preserve">200</text><text x="38.59 47.34 56.09" y="447.00" font-size="13.89px" xml:space="preserve">300</text><text x="38.59 47.34 56.09" y="546.00" font-size="13.89px" xml:space="preserve">400</text><text x="38.59 47.34 56.09" y="623.00" font-size="13.89px" xml:space="preserve">500</text><text x="38.47 47.34 56.09" y="685.00" font-size="13.89px" xml:space="preserve">600</text><text x="38.59 47.34 56.09" y="738.00" font-size="13.89px" xml:space="preserve">700</text><text x="38.47 47.34 56.09" y="784.00" font-size="13.89px" xml:space="preserve">800</text><text x="38.47 47.34 56.09" y="824.00" font-size="13.89px" xml:space="preserve">900</text><text x="29.72 38.59 47.34 56.09" y="860.00" font-size="13.89px" xml:space="preserve">1000</text><text x="109.53 121.16 129.91" y="892.00" font-size="13.89px" xml:space="preserve">−20</text><text x="207.69 219.31 228.19" y="892.00" font-size="13.89px" xml:space="preserve">−10</text><text x="316.43" y="892.00" font-size="13.89px" xml:space="preserve">0</text><text x="409.91 418.78" y="892.00" font-size="13.89px" xml:space="preserve">10</text><text x="508.45 517.20" y="892.00" font-size="13.89px" xml:space="preserve">20</text><text x="605.14 613.89" y="892.00" font-size="13.89px" xml:space="preserve">30</text></g>
<text x="285.30 291.43 299.93 313.43 322.30 330.80 336.55 345.18 350.68 359.43 364.93 373.43 377.80 383.30 398.93" y="912.00" font-size="13.89px" fill="#002050" xml:space="preserve">Temperature (℃)</text>
<text transform="translate(19.50 469.25) rotate(-90)" x="-72.60 -68.60 -61.48 -52.98 -44.10 -35.48 -29.73 -25.85 -18.23 -13.85 -3.48 5.02 8.90 17.77 26.52 32.02 36.40 41.90 50.65 58.40 67.02" y="0" font-size="13.89px" fill="#002050" xml:space="preserve">Isobaric Height (hPa)</text>
<text x="-0.45 13.05 28.42 52.80 77.17 92.42 108.30 116.30 133.42 140.42 150.80 166.67 181.92 192.30 202.05 210.05 218.05 233.92 253.30 261.67 269.67 291.30 306.55 322.42 337.80 344.80 352.80 369.05 384.92 400.80 408.80 424.80 440.67 456.67 472.67 481.80 497.67 513.67 522.80 538.67 554.42 562.42 578.30 594.30 602.30 620.55 634.42 651.80 660.17 668.17 692.92 710.30 724.80 732.80 752.17 767.42 791.80 807.05 814.05 829.92 837.92 853.80" y="21.00" font-size="25.00px" fill="#002050" xml:space="preserve">Lemmon Airport, SD; Model Run 2026-04-05 12 UTC; WRF Domain 02</text>
<text x="124.47 137.72 150.97 164.22 177.59 185.09 198.34 211.59 219.09 232.34 245.72 252.34 265.59 278.84 285.47 300.84 312.47 326.97 333.59 340.22 348.34 361.59 374.84 388.09 401.47 408.97 422.22 435.47 442.97 456.22 469.59 476.22 489.47 502.72 509.34 527.22 543.22 556.09" y="56.00" font-size="20.83px" fill="#002050" xml:space="preserve">2026-04-06 23 UTC  (2026-04-06 17 MDT)</text>
<g fill="#002050" font-size="13.89px"><text y="86.00" xml:space="preserve"><tspan x="102.64 110.39 120.14 127.89 132.27 142.64 151.14 155.02 163.89 172.64 178.14">LCL Height:</tspan><tspan x="182.55 186.97 195.84 204.72 213.47 222.34 226.72 235.47 239.84"> 1651.0 m</tspan></text><text y="104.00" xml:space="preserve"><tspan x="102.64 110.39 118.39 128.14 132.52 142.89 151.39 155.27 164.14 172.89 178.39">LFC Height:</tspan><tspan x="182.52 186.93 195.68 204.31 213.06 217.43"> nan m</tspan></text><text y="122.00" xml:space="preserve"><tspan x="141.64 153.64 161.39 169.14 178.39">MLLR:</tspan><tspan x="182.51 186.92 195.67 200.05 208.80 213.17"> 5.4 K</tspan></text><text y="140.00" xml:space="preserve"><tspan x="125.08 133.83 143.20 152.95 162.45 170.83 179.58">SBCAPE:</tspan><tspan x="182.56 186.98 195.73 200.10 208.85 213.23 217.23 221.85 229.98"> 0.0 J/kg</tspan></text><text y="158.00" xml:space="preserve"><tspan x="137.08 145.83 155.20 164.95 168.95 179.33">SBCIN:</tspan><tspan x="182.56 186.98 195.73 200.10 208.85 213.23 217.23 221.85 229.98"> 0.0 J/kg</tspan></text><text y="176.00" xml:space="preserve"><tspan x="121.64 133.64 141.39 151.14 160.64 169.02 177.77">MLCAPE:</tspan><tspan x="182.56 186.98 195.73 200.10 208.85 213.23 217.23 221.85 229.98"> 0.0 J/kg</tspan></text><text y="194.00" xml:space="preserve"><tspan x="134.64 146.64 154.39 164.14 168.14 178.52">MLCIN:</tspan><tspan x="182.56 186.98 195.73 200.10 208.85 213.23 217.23 221.85 229.98"> 0.0 J/kg</tspan></text><text y="212.00" xml:space="preserve"><tspan x="119.64 131.64 141.77 151.52 161.02 169.39 178.14">MUCAPE:</tspan><tspan x="182.56 186.98 195.73 200.10 208.85 213.23 217.23 221.85 229.98"> 0.0 J/kg</tspan></text><text y="230.00" xml:space="preserve"><tspan x="85.08 93.83 102.58 111.08 119.70 125.45 129.83 138.58 143.45 152.33 156.70 164.83 178.33">Shear 0-1 km:</tspan><tspan x="182.55 186.97 195.84 200.22 208.97 213.34 226.84 231.47"> 1.2 m/s</tspan></text><text y="248.00" xml:space="preserve"><tspan x="85.08 93.83 102.58 111.08 119.70 125.45 129.83 138.58 143.45 152.33 156.70 164.83 178.33">Shear 0-6 km:</tspan><tspan x="182.57 186.98 195.73 204.48 208.86 217.73 222.11 235.61 240.23"> 27.9 m/s</tspan></text><text y="266.00" xml:space="preserve"><tspan x="96.08 104.83 114.45 124.83 129.20 137.95 142.83 151.70 156.08 164.20 177.70">SRH 0-1 km:</tspan><tspan x="182.61 187.03 191.90 200.65 209.40 213.78 222.53 226.90 240.40 245.90 250.53 257.65"> -25.4 m²/s²</tspan></text><text y="284.00" xml:space="preserve"><tspan x="96.08 104.83 114.45 124.83 129.20 137.95 142.83 151.58 155.95 164.08 177.58">SRH 0-3 km:</tspan><tspan x="182.61 187.03 191.90 200.78 209.53 218.40 222.78 231.53 235.90 249.40 254.90 259.53 266.65"> -158.3 m²/s²</tspan></text></g>
<g fill="#002050" stroke="#002050" stroke-width="1.9" stroke-linejoin="round"><path d="M615.40 67.20 L585.35 49.85 L596.05 40.00 L592.86 54.19 L596.62 56.36 L598.21 49.26 L596.62 56.36Z" stroke-width="1.3"/><path d="M615.40 120.80 L585.35 103.45 L596.05 93.60 L592.86 107.79 L596.62 109.96 L598.21 102.86 L596.62 109.96Z"/><path d="M615.40 174.20 L584.88 157.70 L595.29 147.55 L592.51 161.82 L596.32 163.88 L597.72 156.75 L596.32 163.88Z"/><path d="M615.40 227.20 L584.68 211.07 L594.97 200.80 L592.36 215.10 L596.20 217.12 L598.81 202.81 L596.20 217.12 L600.04 219.13 L601.34 211.98 L600.04 219.13Z"/><path d="M615.40 280.80 L583.68 266.74 L593.26 255.81 L591.61 270.26 L595.57 272.01 L597.23 257.57 L595.57 272.01 L599.54 273.77 L601.20 259.32 L599.54 273.77Z"/><path d="M615.40 333.30 L583.23 320.30 L592.45 309.06 L591.27 323.55 L595.29 325.18 L596.47 310.68 L595.29 325.18 L599.31 326.80 L600.49 312.31 L599.31 326.80Z"/><path d="M615.40 382.20 L583.09 369.54 L592.20 358.20 L591.17 372.70 L595.21 374.29 L596.23 359.78 L595.21 374.29 L599.25 375.87 L599.76 368.62 L599.25 375.87Z"/><path d="M615.40 426.30 L583.41 412.85 L592.79 401.74 L591.41 416.21 L595.41 417.90 L596.79 403.42 L595.41 417.90 L599.41 419.58 L600.10 412.34 L599.41 419.58Z"/><path d="M615.40 466.10 L584.00 451.33 L593.84 440.61 L591.85 455.02 L595.78 456.87 L597.76 442.46 L595.78 456.87Z"/><path d="M615.40 501.40 L584.79 485.06 L595.15 474.85 L592.44 489.14 L596.27 491.18 L597.62 484.04 L596.27 491.18Z"/><path d="M615.40 533.70 L586.40 514.65 L597.64 505.43 L593.65 519.41Z"/><path d="M615.40 562.50 L586.91 542.70 L591.27 528.82 L586.91 542.70 L590.47 545.17 L594.83 531.30 L590.47 545.17 L594.03 547.65 L598.39 533.77 L594.03 547.65 L597.59 550.12 L601.95 536.25 L597.59 550.12 L601.15 552.60 L603.33 545.66 L601.15 552.60Z"/><path d="M615.40 588.70 L587.47 568.11 L592.22 554.36 L587.47 568.11 L590.96 570.68 L595.71 556.94 L590.96 570.68 L594.45 573.26 L599.20 559.51 L594.45 573.26 L597.94 575.83 L602.69 562.08 L597.94 575.83 L601.44 578.40 L603.81 571.53 L601.44 578.40Z"/><path d="M615.40 612.10 L587.22 591.85 L591.80 578.05 L587.22 591.85 L590.74 594.38 L595.32 580.58 L590.74 594.38 L594.27 596.91 L598.84 583.11 L594.27 596.91 L597.79 599.44 L602.37 585.64 L597.79 599.44Z"/><path d="M615.40 653.20 L586.67 633.75 L590.86 619.82 L586.67 633.75 L590.26 636.18 L594.45 622.25 L590.26 636.18 L593.85 638.61 L598.04 624.68 L593.85 638.61 L597.44 641.04 L601.63 627.12 L597.44 641.04Z"/><path d="M615.40 686.50 L586.60 667.15 L590.74 653.21 L586.60 667.15 L590.20 669.57 L594.34 655.63 L590.20 669.57 L593.80 671.98 L597.94 658.04 L593.80 671.98 L597.40 674.40 L599.47 667.43 L597.40 674.40Z"/><path d="M615.40 714.70 L584.76 698.41 L587.45 684.12 L584.76 698.41 L588.59 700.45 L591.28 686.15 L588.59 700.45 L592.42 702.48 L593.76 695.34 L592.42 702.48Z"/><path d="M615.40 738.50 L586.91 718.70 L591.27 704.82 L586.91 718.70 L590.47 721.17 L592.65 714.24 L590.47 721.17Z"/><path d="M615.40 757.20 L598.05 727.15 L607.90 716.45 L598.05 727.15Z"/><path d="M615.40 786.40 L648.76 795.96 L642.50 794.17 L642.67 801.44 L642.50 794.17Z"/><path d="M615.40 797.40 L647.94 809.44 L647.20 823.96 L647.94 809.44Z"/><path d="M615.40 806.90 L646.72 821.84 L644.66 836.23 L646.72 821.84Z"/><path d="M615.40 814.60 L646.64 829.70 L644.51 844.09 L646.64 829.70Z"/><path d="M615.40 821.30 L646.37 836.95 L643.99 851.29 L646.37 836.95Z"/><path d="M615.40 826.00 L646.43 841.54 L644.09 855.89 L646.43 841.54Z"/><path d="M615.40 830.50 L646.24 846.42 L643.72 860.74 L646.24 846.42Z"/><circle cx="614.9" cy="773.1" r="5.2" fill="none"/></g>
<line x1="76.2" x2="615.6" y1="64.9" y2="64.9" stroke="#fff" stroke-width="0.9"/>
<circle cx="600" cy="871.3" r="22.2" fill="#fff" stroke="#b0b0b0" stroke-width="0.8"/>
<path d="M600.5 849.6 L600.5 871.5 L607 883.7" fill="none" stroke="#002050" stroke-width="1.4" stroke-linejoin="round"/>
<defs><clipPath id="chod"><rect x="700.4" y="82.9" width="189.0" height="188.99999999999997"/></clipPath></defs>
<g clip-path="url(#chod)">
<g fill="none" stroke="#808080" stroke-width="1.39" stroke-dasharray="5.14 2.22"><circle cx="794.90" cy="177.40" r="23.62"/><circle cx="794.90" cy="177.40" r="47.25"/><circle cx="794.90" cy="177.40" r="70.88"/><circle cx="794.90" cy="177.40" r="94.50"/><circle cx="794.90" cy="177.40" r="118.12"/></g>
<g stroke="#808080" stroke-width="2.08" stroke-dasharray="7.7 3.33"><line x1="700.4" x2="889.4" y1="177.40" y2="177.40"/><line x1="794.90" x2="794.90" y1="271.9" y2="82.9"/></g>
<g fill="none" stroke-width="3.5" stroke-linecap="butt" stroke-linejoin="round"><path d="M781.40 170.30 L783.35 171.55" stroke="#0000f1"/><path d="M783.35 171.55 L785.30 172.80 L787.50 175.05" stroke="#0000ff"/><path d="M787.50 175.05 L789.70 177.30 L791.95 178.25" stroke="#0000ff"/><path d="M791.95 178.25 L794.20 179.20 L796.45 180.80" stroke="#0000ff"/><path d="M796.45 180.80 L798.70 182.40 L799.65 184.65" stroke="#0000ff"/><path d="M799.65 184.65 L800.60 186.90 L802.20 188.35" stroke="#0004ff"/><path d="M802.20 188.35 L803.80 189.80 L805.45 189.95" stroke="#000cff"/><path d="M805.45 189.95 L807.10 190.10 L809.00 188.50" stroke="#0020ff"/><path d="M809.00 188.50 L810.90 186.90 L812.80 185.45" stroke="#0040ff"/><path d="M812.80 185.45 L814.70 184.00 L816.00 184.20" stroke="#0060ff"/><path d="M816.00 184.20 L817.30 184.40 L819.25 186.60" stroke="#0070ff"/><path d="M819.25 186.60 L821.20 188.80 L822.80 191.05" stroke="#0080ff"/><path d="M822.80 191.05 L824.40 193.30 L825.65 196.20" stroke="#008cff"/><path d="M825.65 196.20 L826.90 199.10 L828.85 200.20" stroke="#009cff"/><path d="M828.85 200.20 L830.80 201.30 L832.05 202.10" stroke="#00c4ff"/><path d="M832.05 202.10 L833.30 202.90 L834.60 204.85" stroke="#0ff8e7"/><path d="M834.60 204.85 L835.90 206.80 L837.50 207.65" stroke="#53ffa4"/><path d="M837.50 207.65 L839.10 208.50 L840.70 208.95" stroke="#8dff6a"/><path d="M840.70 208.95 L842.30 209.40 L844.85 209.55" stroke="#beff39"/><path d="M844.85 209.55 L847.40 209.70 L850.00 209.25" stroke="#feed00"/><path d="M850.00 209.25 L852.60 208.80 L855.45 208.30" stroke="#ffb200"/><path d="M855.45 208.30 L858.30 207.80 L860.55 207.50" stroke="#ff8d00"/><path d="M860.55 207.50 L862.80 207.20 L864.75 206.85" stroke="#ff5500"/><path d="M864.75 206.85 L866.70 206.50 L868.30 206.50" stroke="#ff1a00"/><path d="M868.30 206.50 L869.90 206.50 L871.15 206.85" stroke="#cd0000"/><path d="M871.15 206.85 L872.40 207.20" stroke="#960000"/></g>
</g>
<rect x="700" y="269" width="184.70000000000005" height="3" fill="#002050"/>
<path d="M700.5 82.50 V271.5 H890" fill="none" stroke="#002050" stroke-width="1.1"/>
<g stroke="#002050" stroke-width="1.1"><line x1="700.50" x2="700.50" y1="272" y2="276.7"/><line x1="695.2" x2="700.5" y1="271.50" y2="271.50"/><line x1="747.50" x2="747.50" y1="272" y2="276.7"/><line x1="695.2" x2="700.5" y1="224.50" y2="224.50"/><line x1="794.50" x2="794.50" y1="272" y2="276.7"/><line x1="695.2" x2="700.5" y1="177.50" y2="177.50"/><line x1="842.50" x2="842.50" y1="272" y2="276.7"/><line x1="695.2" x2="700.5" y1="130.50" y2="130.50"/><line x1="889.50" x2="889.50" y1="272" y2="276.7"/><line x1="695.2" x2="700.5" y1="82.50" y2="82.50"/></g>
<g fill="#002050"><text x="685.52 697.15 705.90" y="292.40" font-size="13.89px" xml:space="preserve">−40</text><text x="661.52 673.14 681.89" y="277.00" font-size="13.89px" xml:space="preserve">−40</text><text x="732.77 744.40 753.15" y="292.40" font-size="13.89px" xml:space="preserve">−20</text><text x="661.52 673.14 681.89" y="230.00" font-size="13.89px" xml:space="preserve">−20</text><text x="790.49" y="292.40" font-size="13.89px" xml:space="preserve">0</text><text x="681.89" y="182.00" font-size="13.89px" xml:space="preserve">0</text><text x="833.31 842.06" y="292.40" font-size="13.89px" xml:space="preserve">20</text><text x="673.14 681.89" y="135.00" font-size="13.89px" xml:space="preserve">20</text><text x="880.74 889.49" y="292.40" font-size="13.89px" xml:space="preserve">40</text><text x="673.14 681.89" y="88.00" font-size="13.89px" xml:space="preserve">40</text></g>
<text transform="translate(794.90 306.50)" fill="#002050" xml:space="preserve"><tspan x="-32.50" y="-0.00" font-size="13.89px">u</tspan><tspan x="-23.71" y="-0.00" font-size="13.89px"> </tspan><tspan x="-19.30" y="-0.00" font-size="13.89px">(</tspan><tspan x="-13.88" y="-0.00" font-size="13.89px">m</tspan><tspan x="-0.37" y="-0.00" font-size="13.89px"> </tspan><tspan x="4.04" y="-0.00" font-size="13.89px">s</tspan><tspan x="11.41" y="-5.36" font-size="9.72px">−</tspan><tspan x="19.54" y="-5.36" font-size="9.72px">1</tspan><tspan x="26.11" y="-0.00" font-size="13.89px">)</tspan></text>
<text transform="translate(657.70 177.40) rotate(-90)" fill="#002050" xml:space="preserve"><tspan x="-32.00" y="-0.00" font-size="13.89px">v</tspan><tspan x="-23.79" y="-0.00" font-size="13.89px"> </tspan><tspan x="-19.38" y="-0.00" font-size="13.89px">(</tspan><tspan x="-13.97" y="-0.00" font-size="13.89px">m</tspan><tspan x="-0.45" y="-0.00" font-size="13.89px"> </tspan><tspan x="3.96" y="-0.00" font-size="13.89px">s</tspan><tspan x="11.32" y="-5.36" font-size="9.72px">−</tspan><tspan x="19.46" y="-5.36" font-size="9.72px">1</tspan><tspan x="26.02" y="-0.00" font-size="13.89px">)</tspan></text>
<rect x="660.5" y="312.5" width="270.0" height="13.0" fill="url(#jet)" stroke="#002050" stroke-width="1.1"/>
<g stroke="#002050" stroke-width="1.1"><line x1="660.50" x2="660.50" y1="325.5" y2="330.7"/><line x1="714.50" x2="714.50" y1="325.5" y2="330.7"/><line x1="768.50" x2="768.50" y1="325.5" y2="330.7"/><line x1="822.50" x2="822.50" y1="325.5" y2="330.7"/><line x1="876.50" x2="876.50" y1="325.5" y2="330.7"/><line x1="930.50" x2="930.50" y1="325.5" y2="330.7"/></g>
<g fill="#002050"><text x="656.09" y="346.00" font-size="13.89px" xml:space="preserve">0</text><text x="710.27" y="346.00" font-size="13.89px" xml:space="preserve">2</text><text x="764.14" y="346.00" font-size="13.89px" xml:space="preserve">4</text><text x="818.04" y="346.00" font-size="13.89px" xml:space="preserve">6</text><text x="872.09" y="346.00" font-size="13.89px" xml:space="preserve">8</text><text x="921.34 930.22" y="346.00" font-size="13.89px" xml:space="preserve">10</text></g>
<text x="738.16 748.54 757.04 760.91 769.79 778.54 784.04 788.41 793.91 802.04 815.54 819.91 829.16 839.91 847.66" y="366.00" font-size="13.89px" fill="#002050" xml:space="preserve">Height (km AGL)</text>
</svg>
</body></html>
